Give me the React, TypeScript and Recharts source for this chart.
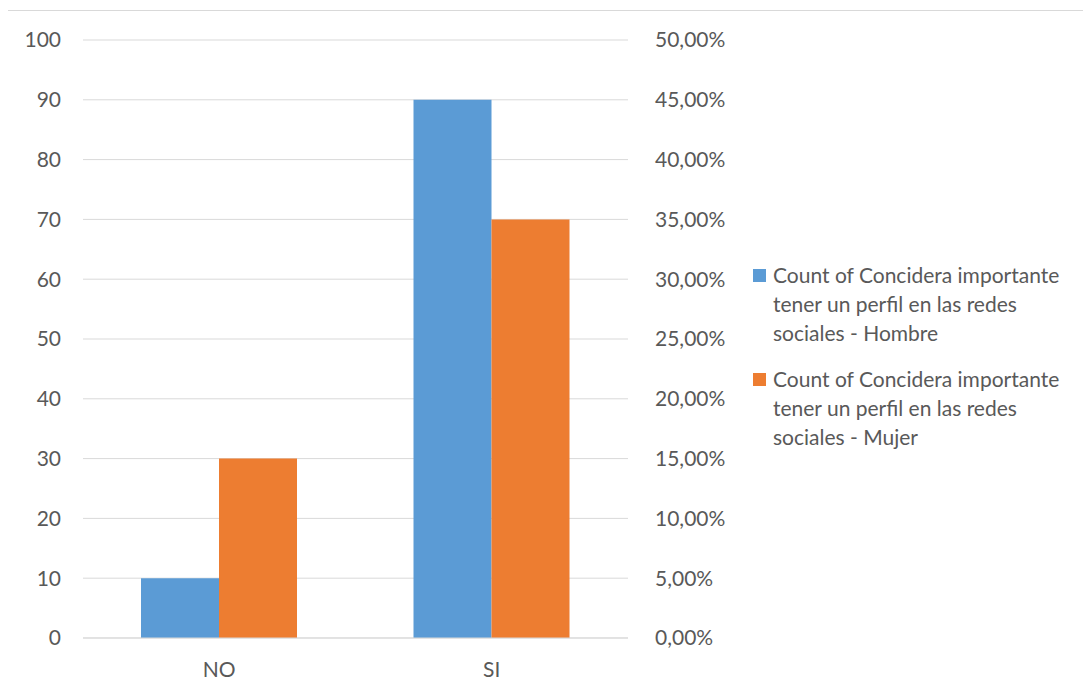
// @ts-nocheck
import { Bar, ComposedChart, CartesianGrid, Line, XAxis, YAxis } from 'recharts';

const categories = ['NO', 'SI'];
const hombre = [10, 90];
const mujer = [30, 70];
const countTicks = [0, 10, 20, 30, 40, 50, 60, 70, 80, 90, 100];
// secondary axis reads the same 0-100 scale as 0%-50%
const shareOfScale = 0.5;
const seriesNames = [
  ['Count of Concidera importante', 'tener un perfil en las redes', 'sociales - Hombre'],
  ['Count of Concidera importante', 'tener un perfil en las redes', 'sociales - Mujer'],
];

const BLUE = '#5b9bd5';
const ORANGE = '#ed7d31';
const TEXT = '#595959';
const GRID = '#d9d9d9';
const FONT = 'Lato, "Open Sans", sans-serif';

const data = categories.map((c, i) => ({ name: c, hombre: hombre[i], mujer: mujer[i] }));

const tick = { fill: TEXT, fontSize: 21, fontFamily: FONT };
const pct = (v) => (v * shareOfScale).toFixed(2).replace('.', ',') + '%';

function LegendItem({ color, lines, top }) {
  return (
    <div style={{ position: 'absolute', left: 745, top, fontFamily: FONT, fontSize: 21, lineHeight: '29px', color: TEXT }}>
      <div style={{ position: 'absolute', left: 0, top: 9, width: 13, height: 13, background: color }} />
      <div style={{ marginLeft: 20, whiteSpace: 'nowrap' }}>
        {lines.map((l, i) => (
          <div key={i}>{l}</div>
        ))}
      </div>
    </div>
  );
}

export default function App() {
  return (
    <div
      style={{
        position: 'relative',
        marginTop: 2,
        marginLeft: -1,
        width: 1100,
        height: 690,
        borderTop: `1px solid ${GRID}`,
        borderLeft: `1px solid ${GRID}`,
        background: '#fff',
      }}
    >
      <ComposedChart width={1083} height={681} data={data} margin={{ top: 29, right: 363, bottom: 14, left: 0 }} barGap={0} barSize={78}>
        <CartesianGrid stroke={GRID} vertical={false} yAxisId="left" />
        <XAxis dataKey="name" tickLine={false} axisLine={{ stroke: GRID }} tick={tick} tickMargin={18} height={40} />
        <YAxis
          yAxisId="left"
          domain={[0, 100]}
          ticks={countTicks}
          tickLine={false}
          axisLine={false}
          tick={tick}
          tickMargin={16}
          width={75}
        />
        <YAxis
          yAxisId="right"
          orientation="right"
          domain={[0, 100]}
          ticks={countTicks}
          tickFormatter={pct}
          tickLine={false}
          axisLine={false}
          tick={tick}
          tickMargin={21}
          width={100}
        />
        <Bar yAxisId="left" dataKey="hombre" fill={BLUE} isAnimationActive={false} />
        <Bar yAxisId="left" dataKey="mujer" fill={ORANGE} isAnimationActive={false} />
        {/* invisible series so the secondary axis is drawn */}
        <Line yAxisId="right" dataKey="hombre" stroke="none" dot={false} activeDot={false} legendType="none" isAnimationActive={false} />
      </ComposedChart>
      <LegendItem color={BLUE} lines={seriesNames[0]} top={249} />
      <LegendItem color={ORANGE} lines={seriesNames[1]} top={353} />
    </div>
  );
}
